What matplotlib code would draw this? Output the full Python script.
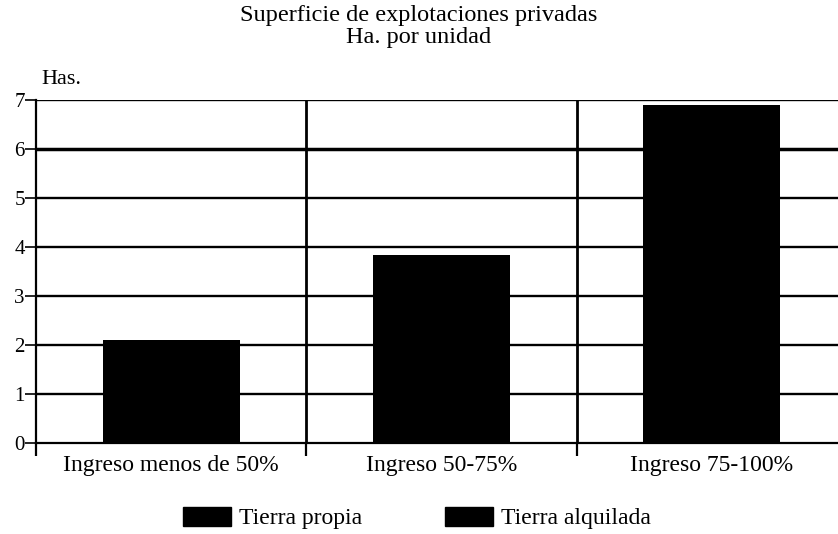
import matplotlib.pyplot as plt
from matplotlib.patches import Patch

categories = ["Ingreso menos de 50%", "Ingreso 50-75%", "Ingreso 75-100%"]
hectareas = [2.10, 3.84, 6.90]
legend_labels = ["Tierra propia", "Tierra alquilada"]
yticks = [0, 1, 2, 3, 4, 5, 6, 7]

plt.rcParams['font.family'] = ['Liberation Serif', 'DejaVu Serif']

fig = plt.figure(figsize=(8.38, 5.34), dpi=100)
ax = fig.add_axes([36 / 838, (534 - 443) / 534, (838 - 36) / 838, (443 - 100) / 534])

x = range(len(categories))
ax.bar(x, hectareas, width=0.507, color='black', zorder=3)

# grid lines and category separators
for y in yticks[1:]:
    ax.axhline(y, color='black', lw=2.5 if y == 6 else 1.7, zorder=1)
ax.vlines([0.5, 1.5], 0, 7, color='black', lw=2, zorder=1)

ax.set_xlim(-0.5, 2.467)
ax.set_ylim(0, 7)
ax.spines['top'].set_visible(False)
ax.spines['right'].set_visible(False)
ax.spines['left'].set_linewidth(1.6)
ax.spines['bottom'].set_linewidth(1.6)

ax.set_yticks(yticks)
ax.tick_params(axis='y', length=8, width=1.2, labelsize=15, pad=0)
ax.set_xticks(list(x))
ax.set_xticklabels(categories)
ax.tick_params(axis='x', length=0, labelsize=17, pad=9)
ax.set_xticks([-0.5, 0.5, 1.5], minor=True)
ax.tick_params(axis='x', which='minor', length=9, width=1.6, direction='out')

ax.text(-0.48, 7.22, "Has.", fontsize=16, ha='left', va='bottom')
fig.text(0.5, 0.99, "Superficie de explotaciones privadas\nHa. por unidad",
         ha='center', va='top', fontsize=17.5, linespacing=1.02)

handles = [Patch(facecolor='black', edgecolor='black') for _ in legend_labels]
fig.legend(handles, legend_labels, loc='center', bbox_to_anchor=(417 / 838, 1 - 518 / 534),
           ncol=2, frameon=False, fontsize=17, handlelength=2.03, handleheight=0.85,
           handletextpad=0.35, columnspacing=3.5)

fig.savefig("out.png", dpi=100)
